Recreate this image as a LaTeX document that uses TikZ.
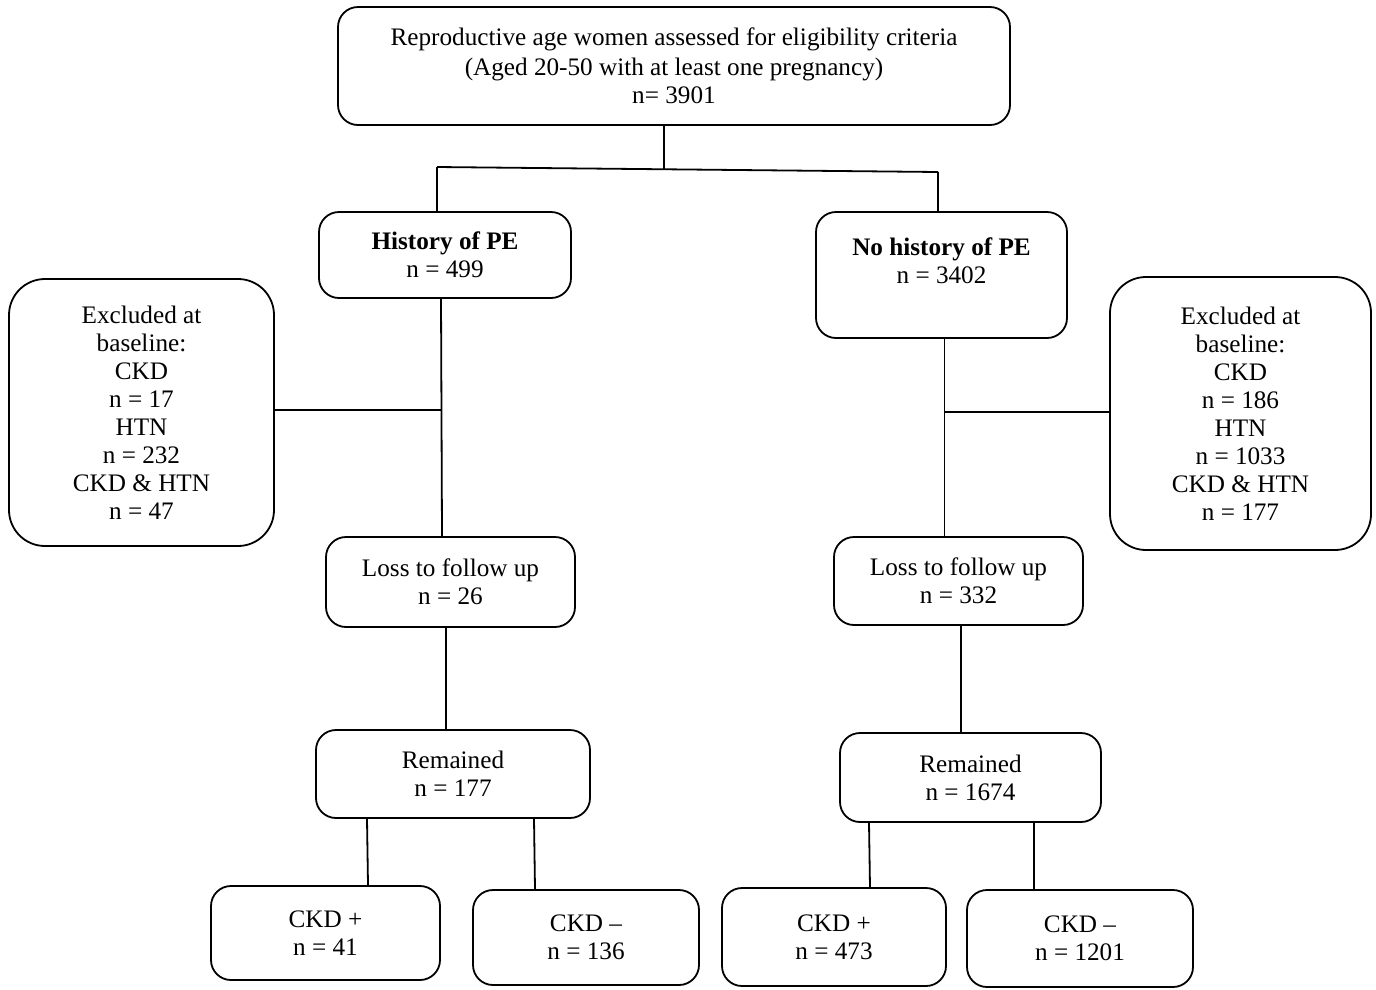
\documentclass[tikz,border=0pt]{standalone}
\usepackage{fontspec}
\setmainfont{Liberation Serif}
\begin{document}
\begin{tikzpicture}[x=1pt,y=-1pt,
  box/.style={draw, line width=1.8pt, rounded corners=20pt, align=center, inner sep=0pt,
    font=\fontsize{25.2}{28}\selectfont},
  bigbox/.style={box, rounded corners=36pt},
  conn/.style={line width=1.8pt},
  thin/.style={line width=1pt}]
\useasboundingbox (0,0) rectangle (1376,989);
\fill[white] (0,0) rectangle (1376,989);

\node[box, minimum width=672, minimum height=118] (top) at (674,66)
  {Reproductive age women assessed for eligibility criteria\\[2pt](Aged 20-50 with at least one pregnancy)\\n= 3901};
\node[box, minimum width=252, minimum height=86] (hpe) at (445,255)
  {\textbf{History of PE}\\n = 499};
\node[box, minimum width=251, minimum height=126] (nh) at (941.5,275)
  {\textbf{No history of PE}\\n = 3402\\\mbox{}};
\node[bigbox, minimum width=265, minimum height=267] (exl) at (141.5,412.5)
  {Excluded at\\baseline:\\CKD\\n = 17\\HTN\\n = 232\\CKD \& HTN\\n = 47};
\node[bigbox, minimum width=261, minimum height=273] (exr) at (1240.5,413.5)
  {Excluded at\\baseline:\\CKD\\n = 186\\HTN\\n = 1033\\CKD \& HTN\\n = 177};
\node[box, minimum width=249, minimum height=90] (loss1) at (450.5,582)
  {Loss to follow up\\n = 26};
\node[box, minimum width=249, minimum height=88] (loss2) at (958.5,581)
  {Loss to follow up\\n = 332};
\node[box, minimum width=274, minimum height=88] (rem1) at (453,774)
  {Remained\\n = 177};
\node[box, minimum width=261, minimum height=89] (rem2) at (970.5,777.5)
  {Remained\\n = 1674};
\node[box, minimum width=229, minimum height=94] (c1) at (325.5,933)
  {CKD +\\n = 41};
\node[box, minimum width=226, minimum height=95] (c2) at (586,937.5)
  {CKD --\\n = 136};
\node[box, minimum width=224, minimum height=98] (c3) at (834,937)
  {CKD +\\n = 473};
\node[box, minimum width=226, minimum height=97] (c4) at (1080,938.5)
  {CKD --\\n = 1201};

\coordinate (hl) at (437,167);
\coordinate (hr) at (938,172);
\coordinate (m1) at (441,410);
\coordinate (m2) at (944,412);

\draw[conn] ([xshift=-10]top.south) -- ++(0,44);
\draw[conn] (hl) -- (hr);
\draw[conn] (hl) -- (hpe.north -| hl);
\draw[conn] (hr) -- (nh.north -| hr);
\draw[conn] ([xshift=-4]hpe.south) -- ([xshift=-8.5]loss1.north);
\draw[conn] (exl.east |- m1) -- (m1);
\draw[thin] ([xshift=2.5]nh.south) -- ([xshift=-14.5]loss2.north);
\draw[conn] (m2) -- (exr.west |- m2);
\draw[conn] ([xshift=-4.5]loss1.south) -- ([xshift=-7]rem1.north);
\draw[conn] ([xshift=2.5]loss2.south) -- ([xshift=-9.5]rem2.north);
\draw[conn] ([xshift=-86]rem1.south) -- ([xshift=42.5]c1.north);
\draw[conn] ([xshift=81]rem1.south) -- ([xshift=-51]c2.north);
\draw[conn] ([xshift=-101.5]rem2.south) -- ([xshift=36]c3.north);
\draw[conn] ([xshift=63.5]rem2.south) -- ([xshift=-46]c4.north);
\end{tikzpicture}
\end{document}
